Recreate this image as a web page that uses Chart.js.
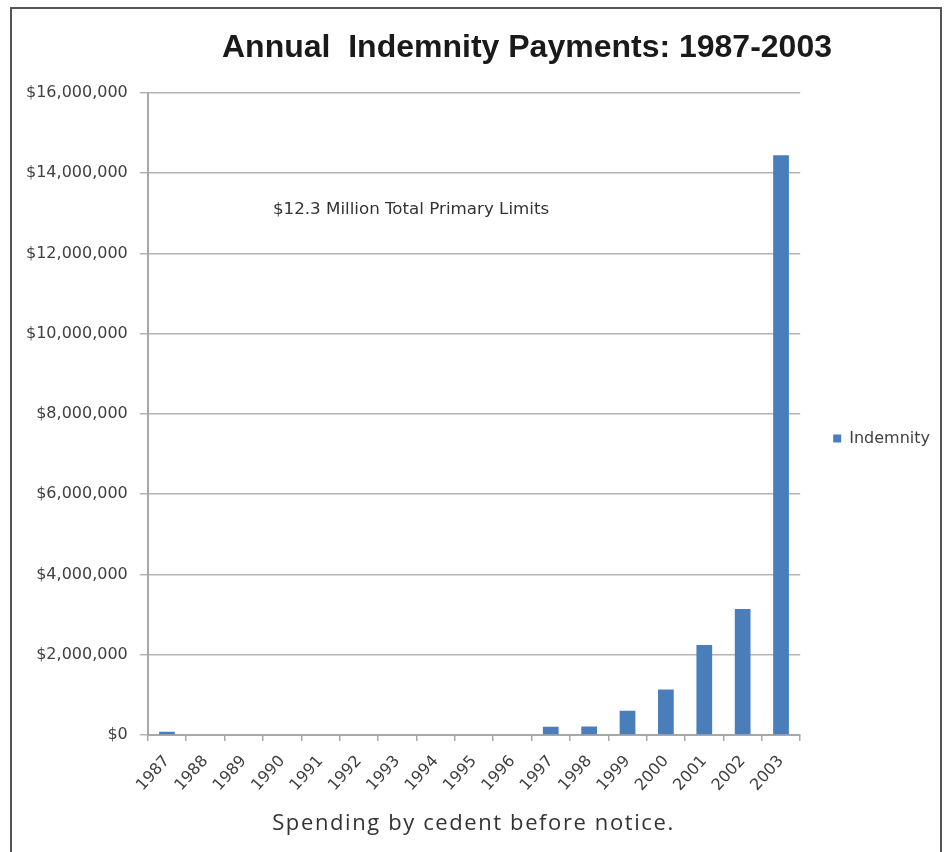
<!DOCTYPE html>
<html>
<head>
<meta charset="utf-8">
<script src="https://cdn.jsdelivr.net/npm/chart.js@4/dist/chart.umd.min.js"></script>
<style>
    html, body { margin: 0; padding: 0; background: #fff; width: 947px; height: 852px; overflow: hidden; }
    #frame { position: absolute; left: 10px; top: 7px; width: 928px; height: 860px; border: 2px solid #555; }
    #title { position: absolute; left: 0; width: 1054px; top: 28px; text-align: center;
             font: bold 32px "Liberation Sans", Arial, sans-serif; color: #1a1a1a; }
    #wrap { position: absolute; left: 12px; top: 9px; width: 928px; height: 800px; }
    #caption { position: absolute; left: 0; width: 947px; top: 806px; text-align: center;
               font: 22px "Open Sans", sans-serif; letter-spacing: 1.6px; color: #333; }
</style>
</head>
<body>
<div id="frame"></div>
<div id="wrap"><canvas id="chart"></canvas></div>
<div id="title">Annual&nbsp; Indemnity Payments: 1987-2003</div>
<div id="caption">Spending by cedent before notice.</div>
<script>
// Данные графика
const years = ["1987", "1988", "1989", "1990", "1991", "1992", "1993", "1994", "1995",
               "1996", "1997", "1998", "1999", "2000", "2001", "2002", "2003"];
const indemnity = [80000, 0, 0, 0, 0, 0, 0, 0, 0,
                   0, 200000, 210000, 600000, 1130000, 2240000, 3140000, 14450000];
const seriesLabel = "Indemnity";
const yMax = 16000000;
const yStep = 2000000;

// Подпись внутри графика (позиция в единицах осей)
const noteText = "$12.3 Million Total Primary Limits";
const noteAt = { x: 2.76, y: 13100000 };

const noteLabel = {
    id: "noteLabel",
    afterDatasetsDraw(chart) {
        const { ctx, scales } = chart;
        ctx.save();
        ctx.font = '16.7px "DejaVu Sans", sans-serif';
        ctx.fillStyle = "#333";
        ctx.textAlign = "left";
        ctx.textBaseline = "middle";
        ctx.fillText(noteText, scales.x.getPixelForValue(noteAt.x), scales.y.getPixelForValue(noteAt.y));
        ctx.restore();
    }
};

document.addEventListener("DOMContentLoaded", () => {
    const ctx = document.getElementById("chart").getContext("2d");

    new Chart(ctx, {
        type: "bar",
        data: {
            labels: years,
            datasets: [{
                label: seriesLabel,
                data: indemnity,
                backgroundColor: "#4a7ebb",
                borderWidth: 0,
                barPercentage: 0.41,
                categoryPercentage: 1.0,
            }],
        },
        options: {
            responsive: true,
            maintainAspectRatio: false,
            animation: false,
            layout: {
                padding: { top: 84, left: 2, right: 0, bottom: 3 },
            },
            plugins: {
                legend: {
                    display: true,
                    position: "right",
                    align: "start",
                    // пустой заголовок легенды только сдвигает её вниз
                    title: { display: true, text: " ", padding: { top: 290, bottom: 0 } },
                    labels: {
                        boxWidth: 8,
                        boxHeight: 8,
                        padding: 33,
                        color: "#404040",
                        font: { family: "DejaVu Sans", size: 16 },
                    },
                },
                tooltip: { enabled: false },
            },
            scales: {
                x: {
                    grid: {
                        display: true,
                        drawOnChartArea: false,
                        drawTicks: true,
                        tickLength: 6,
                        color: "#a8a8a8",
                        lineWidth: 1.5,
                        offset: true,
                    },
                    border: { display: true, color: "#a8a8a8", width: 2 },
                    ticks: {
                        minRotation: 48,
                        maxRotation: 48,
                        color: "#404040",
                        font: { family: "DejaVu Sans", size: 16 },
                        padding: 11,
                    },
                },
                y: {
                    min: 0,
                    max: yMax,
                    grid: {
                        color: "#b4b4b4",
                        lineWidth: 1.5,
                        tickLength: 8,
                    },
                    border: { display: true, color: "#a8a8a8", width: 2 },
                    ticks: {
                        stepSize: yStep,
                        color: "#404040",
                        padding: 12,
                        font: { family: "DejaVu Sans", size: 16 },
                        callback: (v) => "$" + v.toLocaleString("en-US"),
                    },
                },
            },
        },
        plugins: [noteLabel],
    });
});
</script>
</body>
</html>
